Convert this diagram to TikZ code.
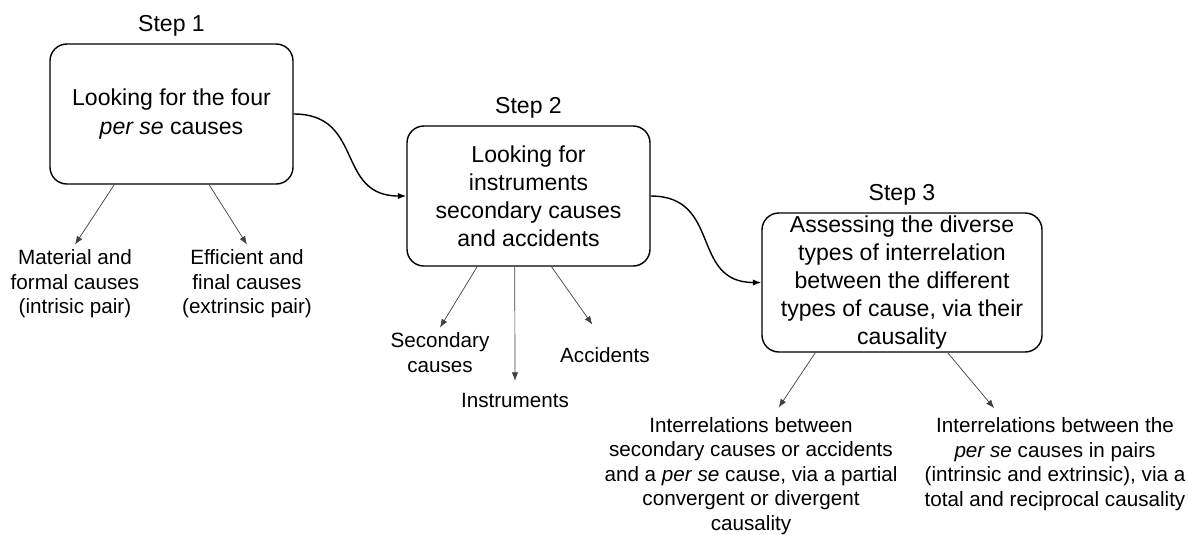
\documentclass[tikz,border=0pt]{standalone}
\usepackage{fontspec}
\setmainfont{Liberation Sans}
\usetikzlibrary{arrows.meta,positioning}
\tikzstyle{stepbox}=[draw, rounded corners=12pt, line width=1pt, inner sep=0pt, align=center, font=\fontsize{16.4}{20}\selectfont]
\tikzstyle{steptitle}=[inner sep=0pt, font=\fontsize{16.4}{20}\selectfont]
\tikzstyle{leaf}=[align=center, font=\fontsize{14.7}{17.5}\selectfont]
\tikzstyle{flow}=[line width=1pt, ->, looseness=1.3]
\tikzstyle{branch}=[line width=0.5pt, black!75, ->]

\begin{document}
\begin{tikzpicture}[>={Latex[length=6pt,width=4.5pt]}]

    \useasboundingbox (0,0) rectangle (29.7,-13.35);

    \node[stepbox, minimum width=6.075cm, minimum height=3.5cm] (s1) at (4.2875,-2.85)
        {Looking for the four\\\textit{per se} causes};
    \node[stepbox, minimum width=6.075cm, minimum height=3.5cm] (s2) at (13.2125,-4.9)
        {Looking for\\instruments\\secondary causes\\and accidents};
    \node[stepbox, minimum width=7cm, minimum height=3.475cm] (s3) at (22.55,-7.0625)
        {Assessing the diverse\\types of interrelation\\between the different\\types of cause, via their\\causality};

    \foreach \name/\num in {s1/1, s2/2, s3/3}
        \node[steptitle, above=4.8pt of \name] (t\num) {Step \num};

    \node[leaf] (m1) at (1.875,-7.095) {Material and\\formal causes\\(intrisic pair)};
    \node[leaf] (m2) at (6.175,-7.095) {Efficient and\\final causes\\(extrinsic pair)};

    \node[leaf] (c1) at (11.0,-8.81) {Secondary\\causes};
    \node[leaf] (c2) at (12.875,-10.0) {Instruments};
    \node[leaf] (c3) at (15.125,-8.875) {Accidents};

    \node[leaf] (r1) at (18.775,-11.9) {Interrelations between\\secondary causes or accidents\\and a \textit{per se} cause, via a partial\\convergent or divergent\\causality};
    \node[leaf] (r2) at (26.375,-11.6) {Interrelations between the\\\textit{per se} causes in pairs\\(intrinsic and extrinsic), via a\\total and reciprocal causality};

       \draw[flow] (s1.east) to[out=0, in=180] (s2.west);
       \draw[flow] (s2.east) to[out=0, in=180] (s3.west);

       \draw[branch] (s1.231) -- (m1.north);
       \draw[branch] (s1.298) -- (m2.north);

       \draw[branch] (s2.234) -- (c1.north);
       \draw[branch, shorten >=5pt] (s2.259) -- (c2.north);
       \draw[branch, shorten >=15.6pt] (s2.288.6) -- (c3.north);

       \draw[branch, shorten >=4pt] (s3.219.6) -- (r1.69);
       \draw[branch, shorten >=4pt] (s3.303.5) -- (r2.138.5);

\end{tikzpicture}
\end{document}
